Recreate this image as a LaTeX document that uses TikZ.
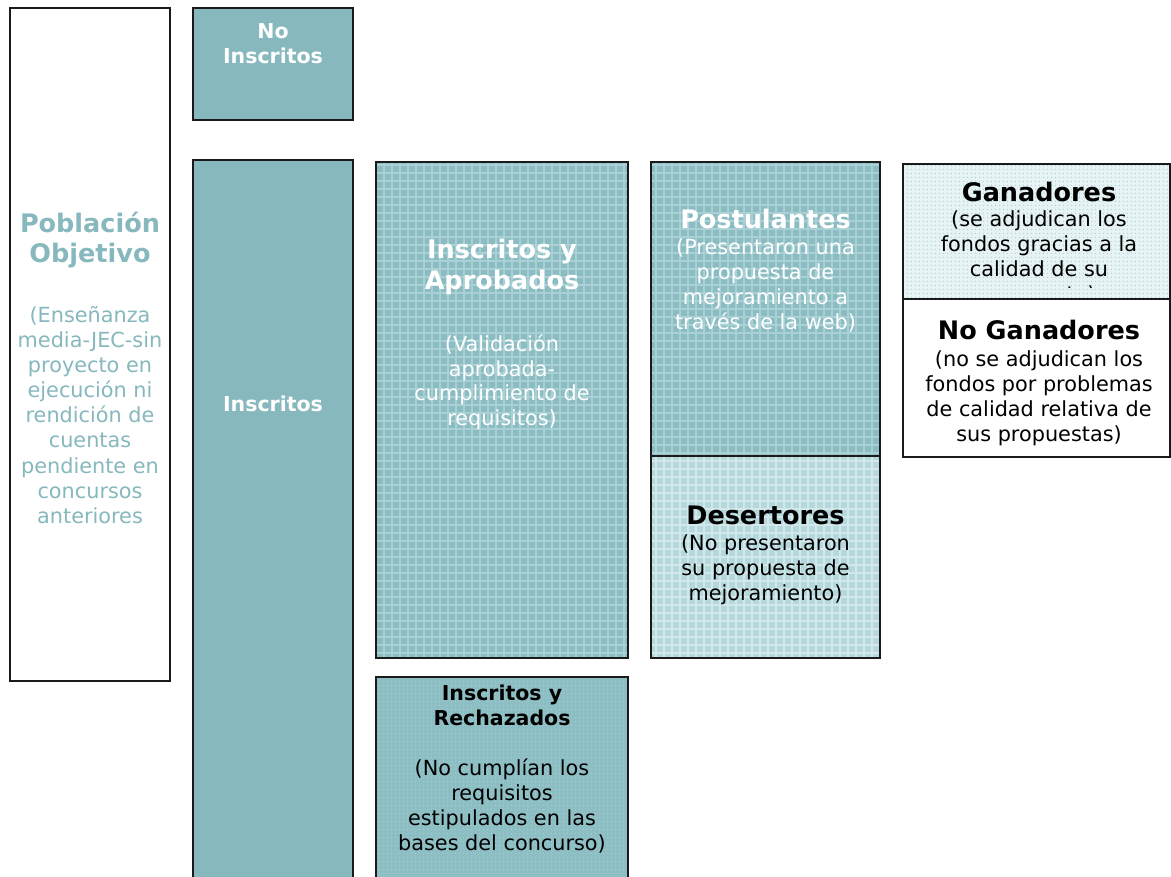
\documentclass[tikz,border=0pt]{standalone}
\usepackage{fontspec}
\setmainfont{DejaVu Sans}
\usetikzlibrary{patterns.meta}
\definecolor{tealA}{HTML}{86B8BE}
\definecolor{tealGrid}{HTML}{8BBCC2}
\definecolor{tealGridLine}{HTML}{A9D0D4}
\definecolor{tealLight}{HTML}{B5D8DC}
\definecolor{tealLightLine}{HTML}{D2E8EB}
\definecolor{tealPale}{HTML}{E6F2F3}
\definecolor{tealPaleDot}{HTML}{A8D0D4}
\definecolor{tealDot}{HTML}{8CBEC3}
\definecolor{tealDotDot}{HTML}{A4CDD1}
\definecolor{edge}{HTML}{1A1A1A}
\tikzset{
  box/.style={draw=edge, line width=1.5pt, rectangle, inner sep=0pt},
  plaid/.style 2 args={preaction={fill=#1}, preaction={pattern={Hatch[angle=0,distance=8pt,line width=1.6pt]}, pattern color=#2}},
  dotted fill/.style 2 args={preaction={fill=#1}, preaction={pattern={Dots[distance=4pt,radius=0.7pt]}, pattern color=#2}},
  ttl/.style={font=\fontsize{25.5}{30}\selectfont\bfseries, anchor=base, inner sep=0pt},
  sttl/.style={font=\fontsize{20.5}{25}\selectfont\bfseries, anchor=base, inner sep=0pt},
  body/.style={font=\fontsize{20.8}{25}\selectfont, anchor=base, inner sep=0pt}
}
\begin{document}
\begin{tikzpicture}[x=1pt,y=-1pt]
\useasboundingbox (0,0) rectangle (1171,877);
\fill[white] (0,0) rectangle (1171,877);
% boxes
\node[box, fill=white, minimum width=160pt, minimum height=673pt] (pob) at (90,344.5) {};
\node[box, fill=tealA, minimum width=160pt, minimum height=112pt] (noins) at (273,64) {};
\node[box, fill=tealA, minimum width=160pt, minimum height=740pt] (ins) at (273,530) {};
\node[box, plaid={tealGrid}{tealGridLine}, minimum width=252pt, minimum height=496pt] (apro) at (502,410) {};
\node[box, dotted fill={tealDot}{tealDotDot}, minimum width=252pt, minimum height=220pt] (rech) at (502,787) {};
\node[box, plaid={tealGrid}{tealGridLine}, minimum width=229pt, minimum height=294pt] (post) at (765.5,309) {};
\node[box, plaid={tealLight}{tealLightLine}, minimum width=229pt, minimum height=202pt] (des) at (765.5,557) {};
\node[box, dotted fill={tealPale}{tealPaleDot}, minimum width=267pt, minimum height=135pt] (gan) at (1036.5,231.5) {};
\node[box, fill=white, minimum width=267pt, minimum height=158pt] (nogan) at (1036.5,378) {};
% Poblacion Objetivo
\node[ttl, text=tealA] (pobt1) at (90,233) {Población};
\node[ttl, text=tealA] (pobt2) at (90,263) {Objetivo};
\foreach \t [count=\i from 0] in {{(Enseñanza},{media-JEC-sin},{proyecto en},{ejecución ni},{rendición de},{cuentas},{pendiente en},{concursos},{anteriores}}
  \node[body, text=tealA] (pobb\i) at ({90},{323+25*\i}) {\t};
% No inscritos
\node[sttl, text=white] (noinst1) at (273,39) {No};
\node[sttl, text=white] (noinst2) at (273,64) {Inscritos};
% Inscritos
\node[sttl, text=white] (inst) at (273,412) {Inscritos};
% Inscritos y Aprobados
\node[ttl, text=white] (aprot1) at (502,259) {Inscritos y};
\node[ttl, text=white] (aprot2) at (502,290) {Aprobados};
\foreach \t [count=\i from 0] in {{(Validación},{aprobada-},{cumplimiento de},{requisitos)}}
  \node[body, text=white] (aprob\i) at ({502},{352+24.5*\i}) {\t};
% Inscritos y Rechazados
\node[sttl] (recht1) at (502,700) {Inscritos y};
\node[sttl] (recht2) at (502,725) {Rechazados};
\foreach \t [count=\i from 0] in {{(No cumplían los},{requisitos},{estipulados en las},{bases del concurso)}}
  \node[body] (rechb\i) at ({502},{775+25*\i}) {\t};
% Postulantes
\node[ttl, text=white] (postt) at (765.5,229) {Postulantes};
\foreach \t [count=\i from 0] in {{(Presentaron una},{propuesta de},{mejoramiento a},{través de la web)}}
  \node[body, text=white] (postb\i) at ({765.5},{255+25*\i}) {\t};
% Desertores
\node[ttl] (dest) at (765.5,524) {Desertores};
\foreach \t [count=\i from 0] in {{(No presentaron},{su propuesta de},{mejoramiento)}}
  \node[body] (desb\i) at ({765.5},{550+25*\i}) {\t};
% Ganadores
\node[ttl] (gant) at (1039,202) {Ganadores};
\foreach \t [count=\i from 0] in {{(se adjudican los},{fondos gracias a la},{calidad de su}}
  \node[body] (ganb\i) at ({1039},{227+25*\i}) {\t};
\begin{scope}
  \clip (903,270) rectangle (1170,288);
  \node[body] (ganb3) at (1039,302) {propuesta)};
\end{scope}
% No Ganadores
\node[ttl] (nogant) at (1039,340) {No Ganadores};
\foreach \t [count=\i from 0] in {{(no se adjudican los},{fondos por problemas},{de calidad relativa de},{sus propuestas)}}
  \node[body] (noganb\i) at ({1039},{367+25*\i}) {\t};
\end{tikzpicture}
\end{document}
